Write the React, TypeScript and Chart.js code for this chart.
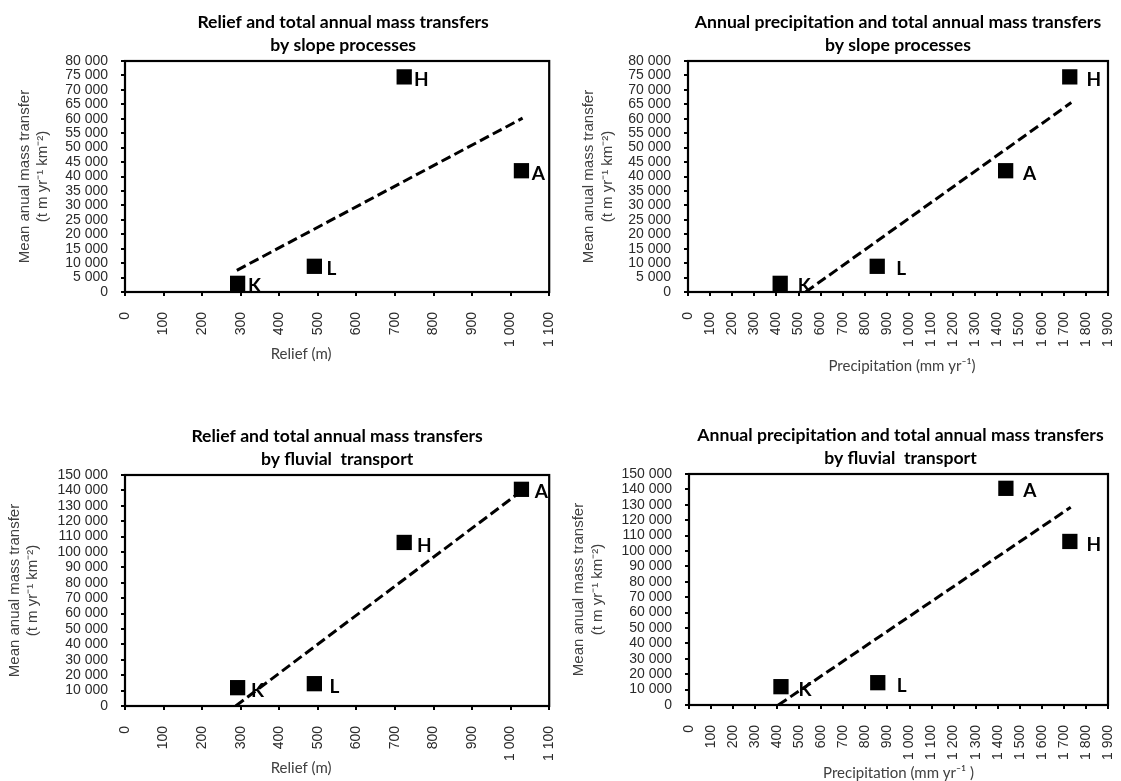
import React, { useEffect, useRef } from 'react';
import { Chart, registerables } from 'chart.js';

Chart.register(...registerables);

// ---------- data ----------
const siteLabels = ['K', 'L', 'H', 'A'];
const reliefM = [292, 491, 724, 1028];
const precipitationMm = [417, 856, 1727, 1437];
const slopeTransfer = [3000, 8900, 74500, 42000];
const fluvialTransfer = [11900, 14500, 106200, 140700];

// fitted trend lines (end points)
const slopeReliefTrendX = [290, 1031];
const slopeReliefTrendY = [7500, 60200];
const slopePrecipTrendX = [532, 1734];
const slopePrecipTrendY = [0, 65600];
const fluvialReliefTrendX = [287, 1026];
const fluvialReliefTrendY = [0, 139200];
const fluvialPrecipTrendX = [405, 1731];
const fluvialPrecipTrendY = [0, 128400];

// tick values
const reliefTicks = [0, 100, 200, 300, 400, 500, 600, 700, 800, 900, 1000, 1100];
const precipTicks = [0, 100, 200, 300, 400, 500, 600, 700, 800, 900, 1000, 1100, 1200, 1300, 1400, 1500, 1600, 1700, 1800, 1900];
const slopeTicks = [0, 5000, 10000, 15000, 20000, 25000, 30000, 35000, 40000, 45000, 50000, 55000, 60000, 65000, 70000, 75000, 80000];
const fluvialTicks = [0, 10000, 20000, 30000, 40000, 50000, 60000, 70000, 80000, 90000, 100000, 110000, 120000, 130000, 140000, 150000];

const yTitleLines = ['Mean anual mass transfer', '(t m yr\u207B\u00B9 km\u207B\u00B2)'];

// ---------- layout ----------
type Panel = {
  canvas: { x: number; y: number; w: number; h: number };
  area: { left: number; top: number; right: number; bottom: number };
  title: string[];
  titleDx: number;
  xTitle: string;
  xTitleDx: number;
  xTitleDy: number;
  yTitleDx: number[];
  labelDx: number;
  xs: number[];
  ys: number[];
  trendX: number[];
  trendY: number[];
  xTicks: number[];
  yTicks: number[];
};

const panels: Panel[] = [
  {
    canvas: { x: 0, y: 0, w: 560, h: 390 },
    area: { left: 125, top: 61, right: 552, bottom: 292 },
    title: ['Relief and total annual mass transfers', 'by slope processes'],
    titleDx: 6,
    xTitle: 'Relief (m)',
    xTitleDx: -36,
    xTitleDy: 62,
    yTitleDx: [-100, -82],
    labelDx: 17,
    xs: reliefM,
    ys: slopeTransfer,
    trendX: slopeReliefTrendX,
    trendY: slopeReliefTrendY,
    xTicks: reliefTicks,
    yTicks: slopeTicks,
  },
  {
    canvas: { x: 560, y: 0, w: 561, h: 390 },
    area: { left: 128, top: 61, right: 548, bottom: 292 },
    title: ['Annual precipitation and total annual mass transfers', 'by slope processes'],
    titleDx: 0,
    xTitle: 'Precipitation (mm yr\u207B\u00B9)',
    xTitleDx: 4,
    xTitleDy: 74,
    yTitleDx: [-99, -80],
    labelDx: 24,
    xs: precipitationMm,
    ys: slopeTransfer,
    trendX: slopePrecipTrendX,
    trendY: slopePrecipTrendY,
    xTicks: precipTicks,
    yTicks: slopeTicks,
  },
  {
    canvas: { x: 0, y: 390, w: 560, h: 391 },
    area: { left: 125, top: 85, right: 552, bottom: 316 },
    title: ['Relief and total annual mass transfers', 'by fluvial  transport'],
    titleDx: 0,
    xTitle: 'Relief (m)',
    xTitleDx: -36,
    xTitleDy: 62,
    yTitleDx: [-110, -92],
    labelDx: 20,
    xs: reliefM,
    ys: fluvialTransfer,
    trendX: fluvialReliefTrendX,
    trendY: fluvialReliefTrendY,
    xTicks: reliefTicks,
    yTicks: fluvialTicks,
  },
  {
    canvas: { x: 560, y: 390, w: 561, h: 391 },
    area: { left: 129, top: 84, right: 548, bottom: 315 },
    title: ['Annual precipitation and total annual mass transfers', 'by fluvial  transport'],
    titleDx: 2,
    xTitle: 'Precipitation (mm yr\u207B\u00B9 )',
    xTitleDx: 0,
    xTitleDy: 68,
    yTitleDx: [-110, -91],
    labelDx: 24,
    xs: precipitationMm,
    ys: fluvialTransfer,
    trendX: fluvialPrecipTrendX,
    trendY: fluvialPrecipTrendY,
    xTicks: precipTicks,
    yTicks: fluvialTicks,
  },
];

const Y_W = 72;
const X_H = 60;
const TICK_FONT = { family: "'Liberation Sans', Arial, sans-serif", size: 14 };
const TICK_COLOR = '#2a2a2a';

const fmt = (v: number) => String(v).replace(/\B(?=(\d{3})+(?!\d))/g, ' ');

function makePlugin(p: Panel) {
  return {
    id: 'panelText',
    afterDatasetsDraw(chart: any) {
      const { ctx } = chart;
      const meta = chart.getDatasetMeta(0);
      ctx.save();
      ctx.fillStyle = '#000';
      ctx.font = "bold 19px Lato, 'Open Sans', sans-serif";
      ctx.textAlign = 'center';
      ctx.textBaseline = 'middle';
      meta.data.forEach((el: any, i: number) => {
        ctx.fillText(siteLabels[i], el.x + p.labelDx, el.y + 3);
      });
      ctx.restore();
    },
    afterDraw(chart: any) {
      const { ctx, chartArea: a } = chart;
      ctx.save();
      ctx.strokeStyle = '#000';
      ctx.lineWidth = 2.2;
      ctx.strokeRect(a.left, a.top, a.right - a.left, a.bottom - a.top);

      const cx = (a.left + a.right) / 2;
      const cy = (a.top + a.bottom) / 2;
      ctx.fillStyle = '#000';
      ctx.textAlign = 'center';
      ctx.textBaseline = 'middle';
      ctx.font = "bold 17.6px Lato, 'Open Sans', sans-serif";
      ctx.fillText(p.title[0], cx + p.titleDx, a.top - 39);
      ctx.fillText(p.title[1], cx + p.titleDx, a.top - 16);

      ctx.fillStyle = '#404040';
      ctx.font = "15px Lato, 'Open Sans', sans-serif";
      ctx.fillText(p.xTitle, cx + p.xTitleDx, a.bottom + p.xTitleDy);

      ctx.font = "15px 'Liberation Sans', Arial, sans-serif";
      yTitleLines.forEach((line, i) => {
        ctx.save();
        ctx.translate(a.left + p.yTitleDx[i], cy);
        ctx.rotate(-Math.PI / 2);
        ctx.fillText(line, 0, 0);
        ctx.restore();
      });
      ctx.restore();
    },
  };
}

function PanelChart({ p }: { p: Panel }) {
  const ref = useRef<HTMLCanvasElement | null>(null);
  useEffect(() => {
    if (!ref.current) return;
    const { w, h } = p.canvas;
    const chart = new Chart(ref.current, {
      type: 'scatter',
      data: {
        datasets: [
          {
            data: p.xs.map((x, i) => ({ x, y: p.ys[i] })),
            pointStyle: 'rect',
            pointRadius: 10.8,
            pointHoverRadius: 10.8,
            backgroundColor: '#000',
            borderColor: '#000',
            borderWidth: 0,
            clip: false as any,
          },
          {
            type: 'line' as any,
            data: p.trendX.map((x, i) => ({ x, y: p.trendY[i] })),
            borderColor: '#000',
            borderWidth: 3,
            borderDash: [10, 4.5],
            pointRadius: 0,
            showLine: true,
            fill: false,
          } as any,
        ],
      },
      options: {
        responsive: false,
        animation: false,
        events: [],
        layout: {
          padding: {
            left: p.area.left - Y_W,
            top: p.area.top,
            right: w - p.area.right,
            bottom: h - p.area.bottom - X_H,
          },
        },
        plugins: {
          legend: { display: false },
          tooltip: { enabled: false },
          title: { display: false },
        },
        scales: {
          x: {
            type: 'linear',
            min: p.xTicks[0],
            max: p.xTicks[p.xTicks.length - 1],
            afterBuildTicks: (s: any) => {
              s.ticks = p.xTicks.map((v) => ({ value: v }));
            },
            afterFit: (s: any) => {
              s.height = X_H;
              s.paddingLeft = 0;
              s.paddingRight = 0;
            },
            grid: {
              drawOnChartArea: false,
              drawTicks: true,
              tickLength: 4,
              color: '#000',
              lineWidth: 2,
            },
            border: { display: false },
            ticks: {
              autoSkip: false,
              minRotation: 90,
              maxRotation: 90,
              padding: 16,
              font: TICK_FONT,
              color: TICK_COLOR,
              callback: (v: any) => fmt(Number(v)),
            },
          },
          y: {
            type: 'linear',
            min: p.yTicks[0],
            max: p.yTicks[p.yTicks.length - 1],
            afterBuildTicks: (s: any) => {
              s.ticks = p.yTicks.map((v) => ({ value: v }));
            },
            afterFit: (s: any) => {
              s.width = Y_W;
              s.paddingTop = 0;
              s.paddingBottom = 0;
            },
            grid: {
              drawOnChartArea: false,
              drawTicks: true,
              tickLength: 4,
              color: '#000',
              lineWidth: 2,
            },
            border: { display: false },
            ticks: {
              autoSkip: false,
              padding: 13,
              font: TICK_FONT,
              color: TICK_COLOR,
              callback: (v: any) => fmt(Number(v)),
            },
          },
        },
      },
      plugins: [makePlugin(p)],
    } as any);
    return () => chart.destroy();
  }, [p]);
  return (
    <canvas
      ref={ref}
      width={p.canvas.w}
      height={p.canvas.h}
      style={{
        position: 'absolute',
        left: p.canvas.x,
        top: p.canvas.y,
        width: p.canvas.w,
        height: p.canvas.h,
      }}
    />
  );
}

export default function App() {
  return (
    <div
      style={{
        position: 'fixed',
        left: 0,
        top: 0,
        width: 1121,
        height: 781,
        background: '#fff',
        overflow: 'hidden',
      }}
    >
      {panels.map((p, i) => (
        <PanelChart key={i} p={p} />
      ))}
    </div>
  );
}
